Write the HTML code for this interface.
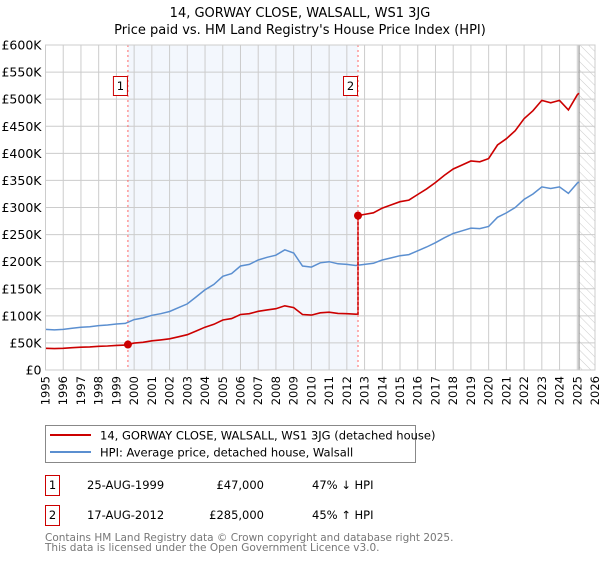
<!DOCTYPE html>
<html><head><meta charset="utf-8"><style>
body{margin:0;background:#fff;font-family:"DejaVu Sans","Liberation Sans",sans-serif;}
svg text{font-family:"DejaVu Sans","Liberation Sans",sans-serif;}
</style></head><body>
<svg id="chart" width="600" height="560" xmlns="http://www.w3.org/2000/svg">
<defs><pattern id="hatch" patternUnits="userSpaceOnUse" width="6" height="6" patternTransform="rotate(-45)"><line x1="0" y1="0" x2="0" y2="6" stroke="#ccc" stroke-width="1"/></pattern></defs>
<text x="300" y="17" text-anchor="middle" font-size="13">14, GORWAY CLOSE, WALSALL, WS1 3JG</text>
<text x="300" y="34" text-anchor="middle" font-size="13">Price paid vs. HM Land Registry's House Price Index (HPI)</text>
<g id="plot"></g>
<rect x="45.5" y="425.5" width="370" height="37" fill="#fff" stroke="#888"/>
<line x1="50" y1="435" x2="91" y2="435" stroke="#cc0000" stroke-width="2"/>
<text x="100" y="439.5" font-size="11.5">14, GORWAY CLOSE, WALSALL, WS1 3JG (detached house)</text>
<line x1="50" y1="452" x2="91" y2="452" stroke="#5b8fd0" stroke-width="2"/>
<text x="100" y="456.5" font-size="11.5">HPI: Average price, detached house, Walsall</text>
<g font-size="11.5">
<rect x="45.5" y="475.5" width="14" height="20" fill="#fff" stroke="#cc0000"/>
<text x="52.5" y="489" text-anchor="middle">1</text>
<text x="87" y="489">25-AUG-1999</text>
<text x="264" y="489" text-anchor="end">£47,000</text>
<text x="312" y="489">47% ↓ HPI</text>
</g>
<g font-size="11.5">
<rect x="45.5" y="505.5" width="14" height="20" fill="#fff" stroke="#cc0000"/>
<text x="52.5" y="519" text-anchor="middle">2</text>
<text x="87" y="519">17-AUG-2012</text>
<text x="264" y="519" text-anchor="end">£285,000</text>
<text x="312" y="519">45% ↑ HPI</text>
</g>
<text x="45" y="541" font-size="10.5" fill="#777">Contains HM Land Registry data © Crown copyright and database right 2025.</text>
<text x="45" y="551" font-size="10.5" fill="#777">This data is licensed under the Open Government Licence v3.0.</text>
</svg>
<script>
const hpiYears=[1995,1995.5,1996,1996.5,1997,1997.5,1998,1998.5,1999,1999.5,2000,2000.5,2001,2001.5,2002,2002.5,2003,2003.5,2004,2004.5,2005,2005.5,2006,2006.5,2007,2007.5,2008,2008.5,2009,2009.5,2010,2010.5,2011,2011.5,2012,2012.5,2013,2013.5,2014,2014.5,2015,2015.5,2016,2016.5,2017,2017.5,2018,2018.5,2019,2019.5,2020,2020.5,2021,2021.5,2022,2022.5,2023,2023.5,2024,2024.5,2025,2025.1];
const hpiValues=[75,74,75,77,79,80,82,83,85,86,93,96,101,104,108,115,122,135,148,158,173,178,192,195,203,208,212,222,216,192,190,198,200,196,195,193,195,197,203,207,211,213,220,227,235,244,252,257,262,261,265,282,290,300,315,325,338,335,338,326,345,347];
const saleDates=[1999.65,2012.63];
const salePrices=[47,285];
const yTicks=[0,50,100,150,200,250,300,350,400,450,500,550,600];
const yTickLabels=["£0","£50K","£100K","£150K","£200K","£250K","£300K","£350K","£400K","£450K","£500K","£550K","£600K"];
const xTicks=[1995,1996,1997,1998,1999,2000,2001,2002,2003,2004,2005,2006,2007,2008,2009,2010,2011,2012,2013,2014,2015,2016,2017,2018,2019,2020,2021,2022,2023,2024,2025,2026];

const L=45.5,R=595,T=45,B=370,X0=1995,X1=2026,YMAX=600;
const sx=v=>L+(v-X0)/(X1-X0)*(R-L);
const sy=v=>B-v/YMAX*(B-T);
const NS="http://www.w3.org/2000/svg";
const g=document.getElementById('plot');
function mk(tag,attrs){const e=document.createElementNS(NS,tag);for(const k in attrs)e.setAttribute(k,attrs[k]);g.appendChild(e);return e;}
function hpiAt(t){for(let i=0;i<hpiYears.length-1;i++){if(t>=hpiYears[i]&&t<=hpiYears[i+1]){const f=(t-hpiYears[i])/(hpiYears[i+1]-hpiYears[i]);return hpiValues[i]+f*(hpiValues[i+1]-hpiValues[i]);}}return hpiValues[hpiValues.length-1];}

let r=mk('rect',{x:sx(saleDates[0]),y:T,width:sx(saleDates[1])-sx(saleDates[0]),height:B-T,fill:'#eef3fc',opacity:0.7});


const lastX=hpiYears[hpiYears.length-1];
r=mk('rect',{x:sx(lastX),y:T,width:R-sx(lastX),height:B-T,fill:'url(#hatch)'});


xTicks.forEach((t,i)=>{
 const l=mk('line',{x1:sx(t),x2:sx(t),y1:T,y2:B,stroke:'#ccc','stroke-width':1});
 
 
 const x=sx(t)+4;
 const tx=mk('text',{x:x,y:B+6,'font-size':11.5,'text-anchor':'end',transform:`rotate(-90 ${x} ${B+6})`});
 tx.textContent=t;
 
 
});
yTicks.forEach((v,i)=>{
 const l=mk('line',{x1:L,x2:R,y1:sy(v),y2:sy(v),stroke:'#ccc','stroke-width':1});
 
 
 const tx=mk('text',{x:L-4,y:sy(v)+4.5,'font-size':12.5,'text-anchor':'end'});
 tx.textContent=yTickLabels[i];
 
 
});
const vl=mk('line',{x1:sx(lastX),x2:sx(lastX),y1:T,y2:B,stroke:'#999','stroke-width':1.2});


let hp=hpiYears.map((t,i)=>`${sx(t).toFixed(1)},${sy(hpiValues[i]).toFixed(1)}`).join(' ');
const hl=mk('polyline',{points:hp,fill:'none',stroke:'#5b8fd0','stroke-width':1.5});


const h0=hpiAt(saleDates[0]),h1=hpiAt(saleDates[1]);
let pts=[];
hpiYears.forEach((t,i)=>{
 if(t<saleDates[1]) pts.push([t,hpiValues[i]*salePrices[0]/h0]);
});
pts.push([saleDates[1],h1*salePrices[0]/h0]);
pts.push([saleDates[1],salePrices[1]]);
hpiYears.forEach((t,i)=>{ if(t>saleDates[1]) pts.push([t,hpiValues[i]*salePrices[1]/h1]); });
const pl=mk('polyline',{points:pts.map(p=>`${sx(p[0]).toFixed(1)},${sy(p[1]).toFixed(1)}`).join(' '),fill:'none',stroke:'#cc0000','stroke-width':1.6});


saleDates.forEach((d,i)=>{
 const l=mk('line',{x1:sx(d),x2:sx(d),y1:T,y2:B,stroke:'#ff6666','stroke-width':1,'stroke-dasharray':'2,3'});
 
 
 const c=mk('circle',{cx:sx(d),cy:sy(salePrices[i]),r:4,fill:'#cc0000'});
 
 
 const bx=mk('rect',{x:sx(d)-14.5,y:76.5,width:14,height:19,fill:'#fff',stroke:'#cc0000'});
 
 
 const tx=mk('text',{x:sx(d)-7.5,y:90,'font-size':11.5,'text-anchor':'middle'});
 tx.textContent=String(i+1);
 
 
});
const fr=mk('rect',{x:L,y:T,width:R-L,height:B-T,fill:'none',stroke:'#ccc'});


</script>
</body></html>
